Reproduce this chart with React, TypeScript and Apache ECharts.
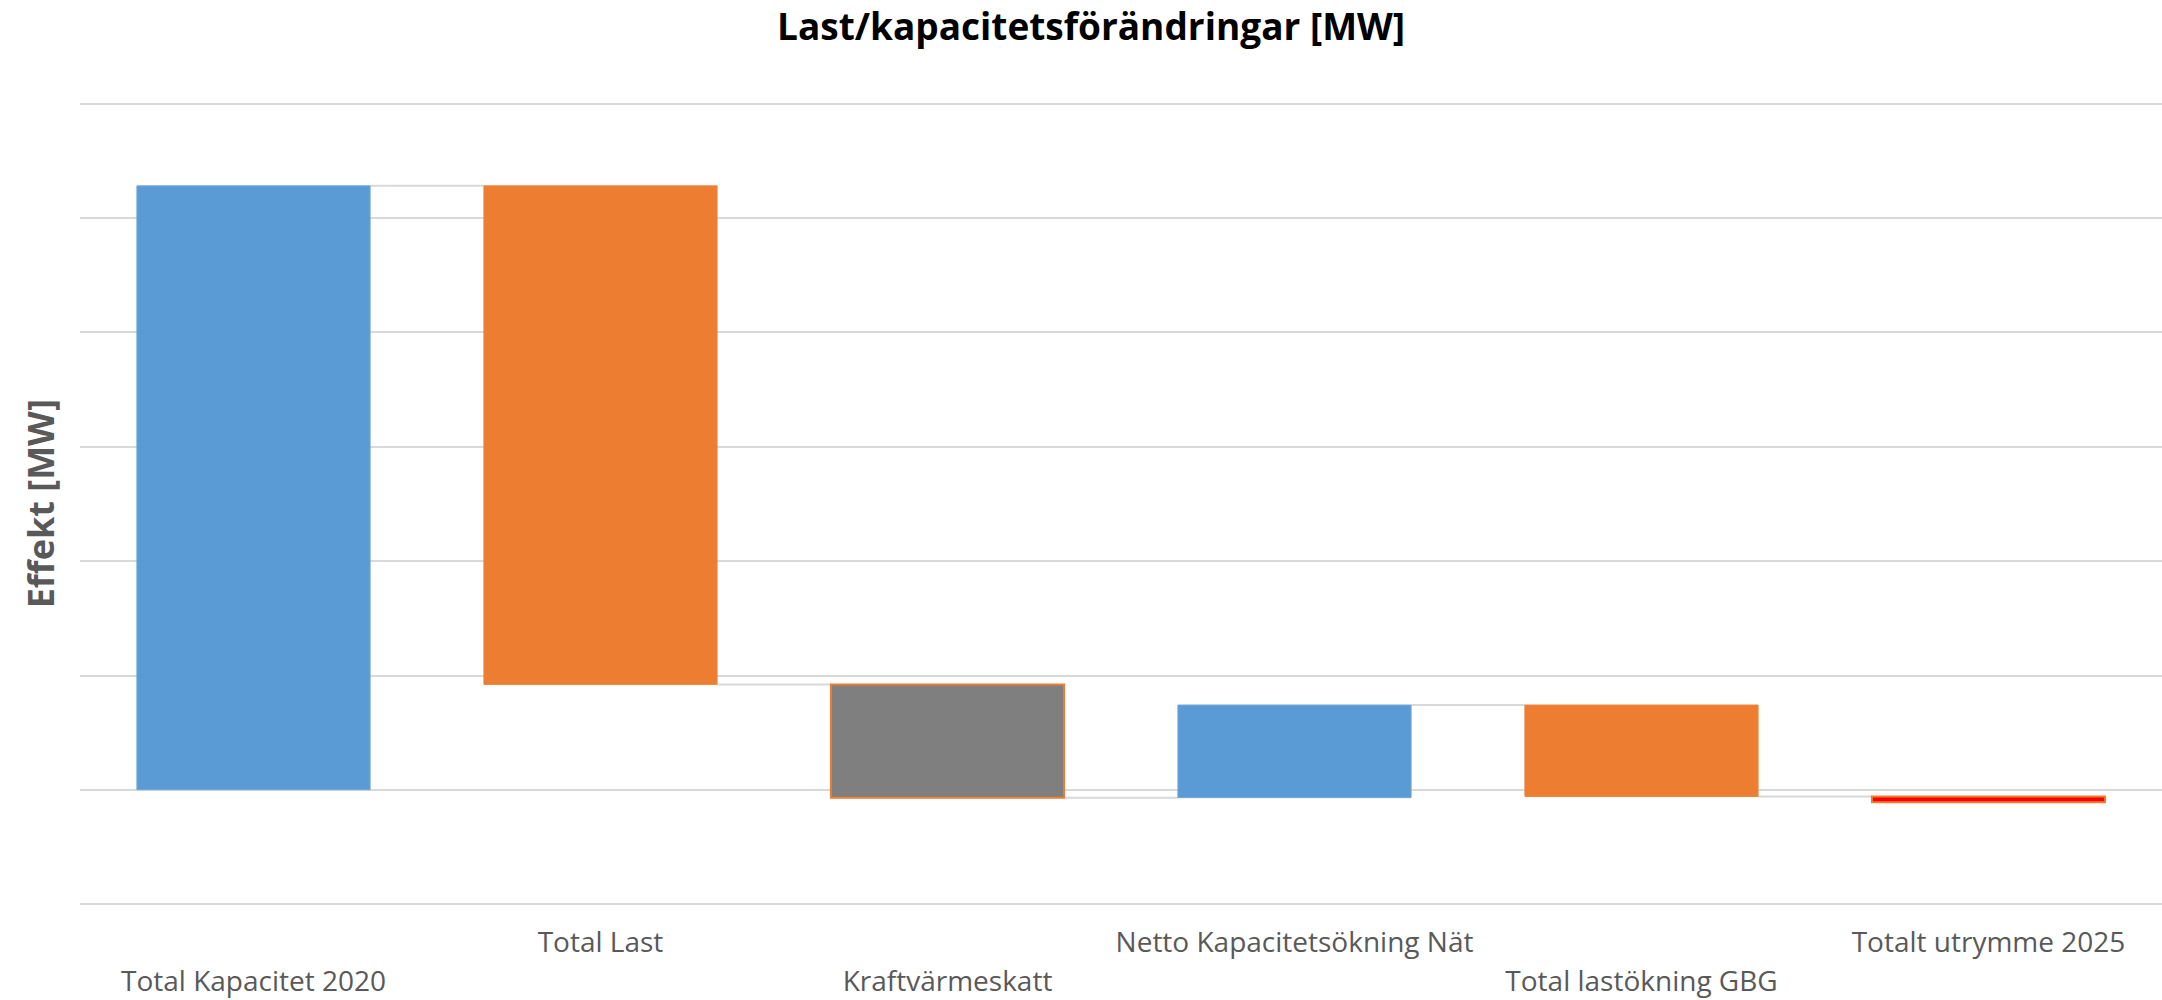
import React, { useEffect, useRef } from "react";
import * as echarts from "echarts";

const titleText = "Last/kapacitetsförändringar [MW]";
const yAxisName = "Effekt [MW]";
const categories = [
  "Total Kapacitet 2020",
  "Total Last",
  "Kraftvärmeskatt",
  "Netto Kapacitetsökning Nät",
  "Total lastökning GBG",
  "Totalt utrymme 2025",
];
// change of each step (MW); first one starts from zero
const changes = [528, -436, -99, 81, -80, -5];
const yMin = -100;
const yMax = 600;
const yInterval = 100;

const fills = ["#5B9BD5", "#ED7D31", "#7F7F7F", "#5B9BD5", "#ED7D31", "#FF0000"];
const borders = ["#6FA6D9", "#EE8540", "#ED7D31", "#6FA6D9", "#EE8540", "#ED7D31"];

export default function App() {
  const ref = useRef<HTMLDivElement>(null);

  useEffect(() => {
    document.body.style.margin = "0";
    if (!ref.current) return;
    const chart = echarts.init(ref.current, null, { renderer: "svg" });

    let acc = 0;
    const rows = categories.map((_, i) => {
      const s = acc;
      acc += changes[i];
      return [i, s, acc];
    });
    const n = categories.length;

    const option: any = {
      animation: false,
      backgroundColor: "#ffffff",
      title: {
        text: titleText,
        left: 772,
        top: 2,
        textStyle: {
          fontFamily: "Open Sans",
          fontWeight: "bold",
          fontSize: 37,
          color: "#000000",
        },
      },
      grid: {
        left: 80,
        right: 0,
        top: 103.5,
        bottom: 96,
        containLabel: false,
        outerBoundsMode: "none",
      },
      xAxis: {
        type: "category",
        data: categories,
        axisLine: { show: false },
        axisTick: { show: false },
        splitLine: { show: false },
        axisLabel: {
          interval: 0,
          fontFamily: "Open Sans",
          fontSize: 28,
          color: "#595959",
          lineHeight: 39,
          margin: 17,
          formatter: (v: string, i: number) => (i % 2 === 0 ? "\n" + v : v),
        },
      },
      yAxis: {
        type: "value",
        min: yMin,
        max: yMax,
        interval: yInterval,
        axisLabel: { show: false },
        axisLine: { show: false },
        axisTick: { show: false },
        splitLine: { show: true, lineStyle: { color: "#D9D9D9", width: 2 } },
        name: yAxisName,
        nameLocation: "middle",
        nameGap: 22,
        nameTextStyle: {
          fontFamily: "Open Sans",
          fontWeight: "bold",
          fontSize: 36,
          color: "#595959",
        },
      },
      series: [
        {
          type: "custom",
          encode: { x: 0, y: [1, 2] },
          data: rows,
          renderItem: (params: any, api: any) => {
            const i = api.value(0);
            const s = api.value(1);
            const e = api.value(2);
            const p0 = api.coord([i, s]);
            const p1 = api.coord([i, e]);
            const band = api.size([1, 0])[0];
            const w = band * 0.672;
            const x = p0[0] - w / 2;
            const y = Math.min(p0[1], p1[1]);
            const h = Math.abs(p1[1] - p0[1]);
            const children: any[] = [];
            if (i < n - 1) {
              children.push({
                type: "line",
                shape: { x1: x + w, y1: p1[1], x2: x + band, y2: p1[1] },
                style: { stroke: "#D9D9D9", lineWidth: 2 },
              });
            }
            children.push({
              type: "rect",
              shape: { x, y, width: w, height: h },
              style: { fill: fills[i], stroke: borders[i], lineWidth: i === 2 || i === 5 ? 2 : 1 },
            });
            return { type: "group", children };
          },
        },
      ],
    };

    chart.setOption(option);
    return () => chart.dispose();
  }, []);

  return <div ref={ref} style={{ width: 2162, height: 1000 }} />;
}
